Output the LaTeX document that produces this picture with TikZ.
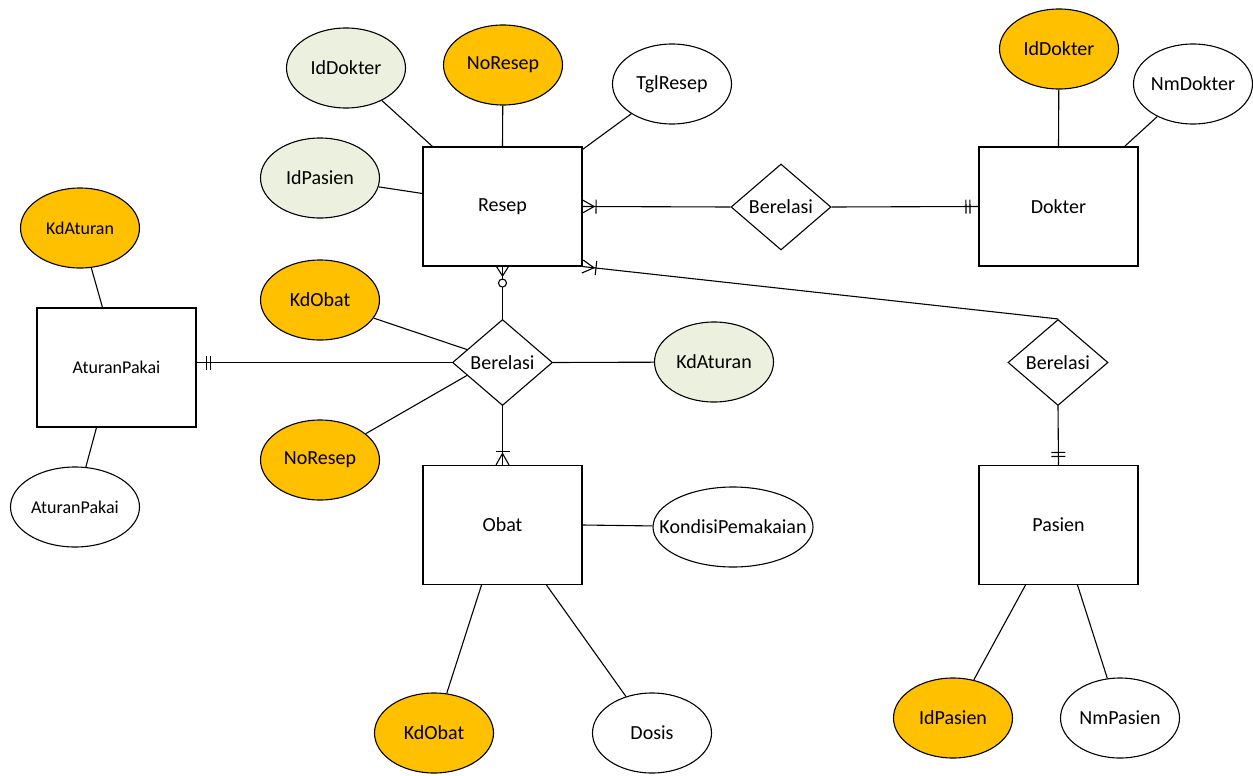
\documentclass[tikz,border=0pt]{standalone}
\usepackage{fontspec}
\setmainfont{Carlito}
\usetikzlibrary{shapes.geometric,decorations.markings}
\definecolor{keyor}{HTML}{FFC000}
\definecolor{keygr}{HTML}{EBF1DE}
\tikzset{
  base/.style={draw=black,line width=1.1pt,font=\fontsize{20}{22}\selectfont,inner sep=0pt},
  ent/.style={base,rectangle,minimum width=159pt,minimum height=119pt},
  attr/.style={base,ellipse,minimum width=119pt,minimum height=80pt,fill=white},
  pk/.style={attr,fill=keyor},
  fk/.style={attr,fill=keygr},
  rel/.style={base,diamond,minimum width=100pt,minimum height=86pt,fill=white},
  small/.style={font=\fontsize{18}{20}\selectfont},
  conn/.style={draw=black,line width=1.1pt},
  crowbarS/.style={postaction={decorate,decoration={markings,mark=at position 0.5pt with {\draw[line width=1.1pt] (-0.5,6.5)--(11,0)--(-0.5,-6.5); \draw[line width=1.1pt] (13,-7)--(13,7);}}}},
  crowcircS/.style={postaction={decorate,decoration={markings,mark=at position 0.5pt with {\draw[line width=1.1pt] (-0.5,6)--(9,0)--(-0.5,-6); \draw[line width=1.1pt,fill=white] (16,0) circle (4pt);}}}},
  dbarS/.style={postaction={decorate,decoration={markings,mark=at position 0.5pt with {\draw[line width=1.1pt] (9,-7)--(9,7); \draw[line width=1.1pt] (13,-7)--(13,7);}}}},
  dbarE/.style={postaction={decorate,decoration={markings,mark=at position -0.5pt with {\draw[line width=1.1pt] (-8,-7)--(-8,7); \draw[line width=1.1pt] (-12,-7)--(-12,7);}}}},
  barcrowE/.style={postaction={decorate,decoration={markings,mark=at position -0.5pt with {\draw[line width=1.1pt] (0.5,6.5)--(-11,0)--(0.5,-6.5); \draw[line width=1.1pt] (-13,-7)--(-13,7);}}}},
}
\begin{document}
\begin{tikzpicture}[x=1pt,y=-1pt]
\useasboundingbox[fill=white] (0,0) rectangle (1253,776);
% entities
\node[ent] (resep) at (502.5,206.5) {Resep};
\node[ent] (dokter) at (1058.5,206.5) {Dokter};
\node[ent,small] (ap) at (116.5,367.5) {AturanPakai};
\node[ent] (obat) at (502.5,525) {Obat};
\node[ent] (pasien) at (1058.5,525) {Pasien};
% relationships
\node[rel] (rel1) at (781,207) {Berelasi};
\node[rel] (rel2) at (502.5,362.5) {Berelasi};
\node[rel] (rel3) at (1058,362.5) {Berelasi};
% attributes
\node[fk] (idd1) at (346,68) {IdDokter};
\node[pk] (nr1) at (503,65) {NoResep};
\node[attr] (tgl) at (672,84) {TglResep};
\node[fk] (idp1) at (320,178) {IdPasien};
\node[pk] (idd2) at (1059,49) {IdDokter};
\node[attr,inner xsep=-8pt] (nmd) at (1193,84) {NmDokter};
\node[pk,small] (kda1) at (80,228) {KdAturan};
\node[pk] (kdo1) at (320,300) {KdObat};
\node[fk] (kda2) at (714,362) {KdAturan};
\node[pk] (nr2) at (320,460) {NoResep};
\node[attr,small,minimum width=129pt] (ape) at (75,507) {AturanPakai};
\node[attr,minimum width=160pt,inner xsep=-25pt] (kp) at (733,527) {KondisiPemakaian};
\node[pk] (kdo2) at (434,733) {KdObat};
\node[attr] (dos) at (652,733) {Dosis};
\node[pk] (idp2) at (953,718) {IdPasien};
\node[attr] (nmp) at (1120,718) {NmPasien};
% attribute connectors
\draw[conn] (idd1) -- ([xshift=10pt]resep.north west);
\draw[conn] (nr1) -- (resep.north);
\draw[conn] (tgl) -- ([yshift=-3pt]resep.north east);
\draw[conn] (idp1) -- ([yshift=13pt]resep.west);
\draw[conn] (idd2) -- (dokter.north);
\draw[conn] (nmd) -- ([xshift=-14pt]dokter.north east);
\draw[conn] (kda1) -- ([xshift=-14pt]ap.north);
\draw[conn] (ape) -- ([xshift=-20pt]ap.south);
\draw[conn] (kdo1) -- (rel2.160);
\draw[conn] (nr2) -- (rel2.200);
\draw[conn] (kda2) -- (rel2.east);
\draw[conn] (kp) -- (obat.east);
\draw[conn] (kdo2) -- ([xshift=-21pt]obat.south);
\draw[conn] (dos) -- ([xshift=44pt]obat.south);
\draw[conn] (idp2) -- ([xshift=-33pt]pasien.south);
\draw[conn] (nmp) -- ([xshift=19pt]pasien.south);
% relationship connectors
\draw[conn,crowbarS] (resep.east) -- (rel1.west);
\draw[conn,dbarE] (rel1.east) -- (dokter.west);
\draw[conn,dbarS] ([yshift=5pt]ap.east) -- (rel2.west);
\draw[conn,crowcircS] (resep.south) -- (rel2.north);
\draw[conn,barcrowE] (rel2.south) -- (obat.north);
\draw[conn,crowbarS] (resep.south east) -- (rel3.north);
\draw[conn,dbarE] (rel3.south) -- (pasien.north);
\end{tikzpicture}
\end{document}
